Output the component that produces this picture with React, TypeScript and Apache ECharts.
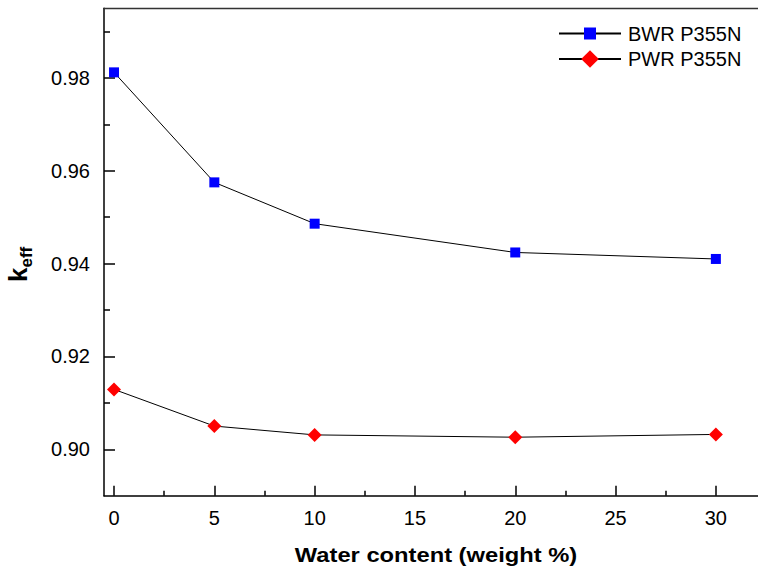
import React, { useEffect, useRef } from "react";
import * as echarts from "echarts";

const xValues = [0, 5, 10, 20, 30];
const bwrValues = [0.9812, 0.9575, 0.9486, 0.9424, 0.941];
const pwrValues = [0.9129, 0.905, 0.9031, 0.9026, 0.9032];
const xMajorTicks = [0, 5, 10, 15, 20, 25, 30];
const xMinorTicks = [2.5, 7.5, 12.5, 17.5, 22.5, 27.5];
const yMajorTicks = [0.9, 0.92, 0.94, 0.96, 0.98];
const yMinorTicks = [0.91, 0.93, 0.95, 0.97, 0.99];
const seriesNames = ["BWR P355N", "PWR P355N"];
const xTitle = "Water content (weight %)";

const FONT = '"Liberation Sans", Arial, sans-serif';
const X_MIN = -0.5;
const X_MAX = 32.1;
const Y_MIN = 0.89;
const Y_MAX = 0.995;

export default function App() {
  const ref = useRef<HTMLDivElement>(null);
  useEffect(() => {
    if (!ref.current) return;
    const chart = echarts.init(ref.current, null, { renderer: "svg" });
    const axisLineStyle = { color: "#000", width: 1.5 };
    const option: any = {
      animation: false,
      backgroundColor: "#fff",
      textStyle: { fontFamily: FONT },
      grid: { left: 104, right: 0, top: 8.3, bottom: 74.3, containLabel: false },
      legend: [
        {
          data: [seriesNames[0]],
          left: 558,
          top: 23.5,
          padding: 0,
          itemWidth: 62,
          itemHeight: 15,
          textStyle: { fontSize: 20, color: "#000", fontFamily: FONT, padding: [0, 0, 0, 2] },
        },
        {
          data: [seriesNames[1]],
          left: 558,
          top: 49,
          padding: 0,
          itemWidth: 62,
          itemHeight: 22,
          textStyle: { fontSize: 20, color: "#000", fontFamily: FONT, padding: [0, 0, 0, 2] },
        },
      ],
      xAxis: [
        {
          type: "value",
          min: X_MIN,
          max: X_MAX,
          position: "bottom",
          axisLine: { show: true, onZero: false, lineStyle: axisLineStyle },
          axisTick: { show: true, inside: true, length: 10, customValues: xMajorTicks, lineStyle: { color: "#000", width: 1.5 } },
          axisLabel: { customValues: xMajorTicks, fontSize: 20, color: "#000", fontFamily: FONT, margin: 12 },
          splitLine: { show: false },
        },
        {
          type: "value",
          min: X_MIN,
          max: X_MAX,
          position: "bottom",
          axisLine: { show: false, onZero: false },
          axisTick: { show: true, inside: true, length: 5, customValues: xMinorTicks, lineStyle: { color: "#000", width: 1.5 } },
          axisLabel: { show: false },
          splitLine: { show: false },
        },
        {
          type: "value",
          min: X_MIN,
          max: X_MAX,
          position: "top",
          axisLine: { show: true, onZero: false, lineStyle: { color: "#333", width: 1.3 } },
          axisTick: { show: false },
          axisLabel: { show: false },
          splitLine: { show: false },
        },
      ],
      yAxis: [
        {
          type: "value",
          min: Y_MIN,
          max: Y_MAX,
          position: "left",
          axisLine: { show: true, onZero: false, lineStyle: axisLineStyle },
          axisTick: { show: true, inside: true, length: 11, customValues: yMajorTicks, lineStyle: { color: "#000", width: 1.5 } },
          axisLabel: {
            customValues: yMajorTicks,
            formatter: (v: number) => v.toFixed(2),
            fontSize: 20,
            color: "#000",
            fontFamily: FONT,
            margin: 14,
          },
          splitLine: { show: false },
        },
        {
          type: "value",
          min: Y_MIN,
          max: Y_MAX,
          position: "left",
          axisLine: { show: false, onZero: false },
          axisTick: { show: true, inside: true, length: 6, customValues: yMinorTicks, lineStyle: { color: "#000", width: 1.5 } },
          axisLabel: { show: false },
          splitLine: { show: false },
        },
      ],
      series: [
        {
          name: seriesNames[0],
          type: "line",
          xAxisIndex: 0,
          yAxisIndex: 0,
          data: xValues.map((x, i) => [x, bwrValues[i]]),
          symbol: "rect",
          symbolSize: 10,
          itemStyle: { color: "#0000ff" },
          lineStyle: { color: "#000", width: 1 },
        },
        {
          name: seriesNames[1],
          type: "line",
          xAxisIndex: 0,
          yAxisIndex: 0,
          data: xValues.map((x, i) => [x, pwrValues[i]]),
          symbol: "diamond",
          symbolSize: 14,
          itemStyle: { color: "#ff0000" },
          lineStyle: { color: "#000", width: 1 },
        },
      ],
      graphic: [
        {
          type: "text",
          x: 436,
          y: 554.5,
          scaleX: 1.13,
          style: {
            text: xTitle,
            font: `bold 21px ${FONT}`,
            fill: "#000",
            align: "center",
            verticalAlign: "middle",
          },
        },
        {
          type: "group",
          x: 25,
          y: 282,
          rotation: Math.PI / 2,
          children: [
            {
              type: "text",
              x: 0,
              y: 5.5,
              style: { text: "k", font: `bold 26px ${FONT}`, fill: "#000", align: "left", verticalAlign: "bottom" },
            },
            {
              type: "text",
              x: 14.5,
              y: 10,
              style: { text: "eff", font: `bold 17px ${FONT}`, fill: "#000", align: "left", verticalAlign: "bottom" },
            },
          ],
        },
      ],
    };
    chart.setOption(option);
    return () => chart.dispose();
  }, []);
  return <div ref={ref} style={{ position: "fixed", left: 0, top: 0, width: 758, height: 570 }} />;
}
